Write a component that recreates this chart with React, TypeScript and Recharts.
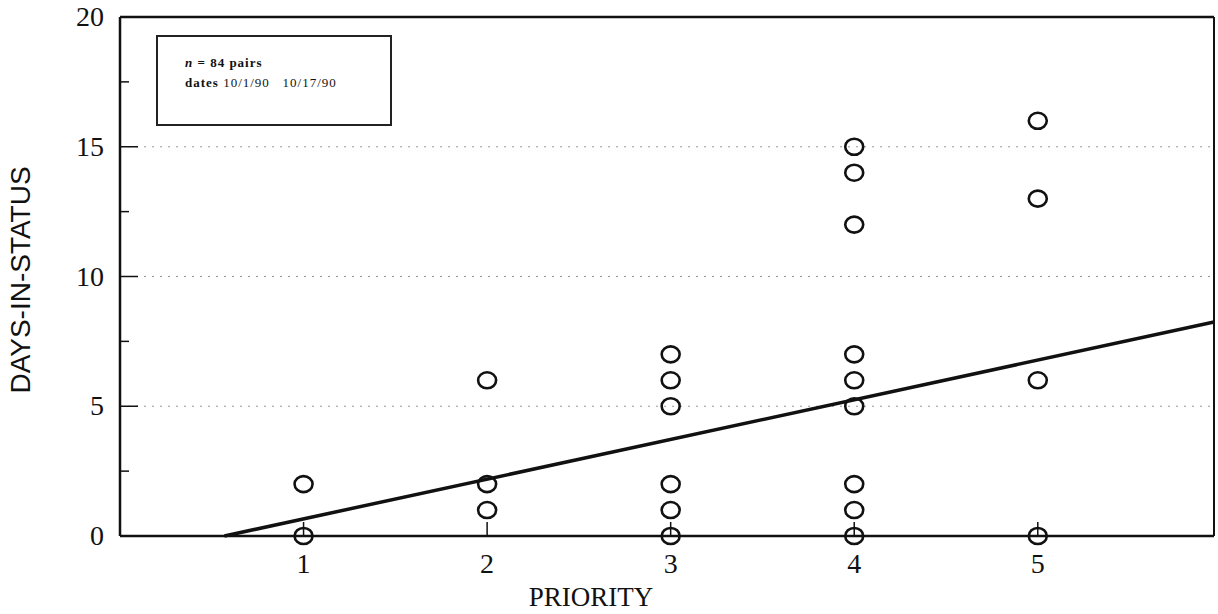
import React from 'react';
import { ScatterChart, Scatter, XAxis, YAxis, ReferenceLine } from 'recharts';

// observed pairs, grouped by priority
const priorities = [1, 2, 3, 4, 5];
const daysByPriority = [
  [0, 2],
  [1, 2, 6],
  [0, 1, 2, 5, 6, 7],
  [0, 1, 2, 5, 6, 7, 12, 14, 15],
  [0, 6, 13, 16],
];

const xTicks = [1, 2, 3, 4, 5];
const yTicks = [0, 2.5, 5, 7.5, 10, 12.5, 15, 17.5, 20];
const gridLevels = [5, 10, 15];

// least-squares fit
const fitSlope = 1.53;
const fitIntercept = -0.87;
const xMax = 5.96;

const points = priorities.flatMap((p, i) => daysByPriority[i].map((d) => ({ priority: p, days: d })));
const fitStart = -fitIntercept / fitSlope;
const fitSegment = [
  { x: fitStart, y: 0 },
  { x: xMax, y: fitSlope * xMax + fitIntercept },
];

const FONT = '"Liberation Serif", "Times New Roman", serif';

const Ring = (props: any) => {
  const { cx, cy } = props;
  return <ellipse cx={cx} cy={cy} rx={9} ry={8} fill="none" stroke="#111" strokeWidth={2.6} />;
};

const YTick = (props: any) => {
  const { y, payload } = props;
  const v = payload.value;
  const major = v % 5 === 0;
  const axisX = 120;
  return (
    <g>
      {v > 0 && v < 20 && (
        <line x1={axisX} x2={axisX + (major ? 18 : 9)} y1={y} y2={y} stroke="#111" strokeWidth={1.5} />
      )}
      {major && (
        <text x={104} y={y + 9} textAnchor="end" fontFamily={FONT} fontSize={28} fill="#111">
          {v}
        </text>
      )}
    </g>
  );
};

const XTick = (props: any) => {
  const { x, payload } = props;
  const axisY = 536;
  return (
    <g>
      <line x1={x} x2={x} y1={axisY} y2={axisY - 14} stroke="#111" strokeWidth={1.5} />
      <text x={x} y={axisY + 37} textAnchor="middle" fontFamily={FONT} fontSize={28} fill="#111">
        {payload.value}
      </text>
    </g>
  );
};

const XTitle = () => (
  <text x={591} y={606} textAnchor="middle" fontFamily={FONT} fontSize={27} fill="#111">
    PRIORITY
  </text>
);

const YTitle = () => (
  <text
    x={0}
    y={0}
    transform="translate(30 280) rotate(-90)"
    textAnchor="middle"
    fontFamily='"Liberation Sans Narrow", "Liberation Sans", Arial, sans-serif'
    fontSize={28}
    fill="#111"
  >
    DAYS-IN-STATUS
  </text>
);

export default function App() {
  return (
    <div style={{ position: 'absolute', left: 0, top: 0, width: 1218, height: 614, background: '#fff' }}>
      <ScatterChart width={1218} height={614} margin={{ top: 17, right: 4, bottom: 0, left: 0 }}>
        <XAxis
          type="number"
          dataKey="priority"
          domain={[0, xMax]}
          ticks={xTicks}
          tick={<XTick />}
          tickLine={false}
          axisLine={{ stroke: '#111', strokeWidth: 2.5 }}
          height={78}
          interval={0}
          label={{ content: <XTitle /> }}
        />
        <YAxis
          type="number"
          dataKey="days"
          domain={[0, 20]}
          ticks={yTicks}
          tick={<YTick />}
          tickLine={false}
          axisLine={{ stroke: '#111', strokeWidth: 2.5 }}
          width={120}
          interval={0}
          label={{ content: <YTitle /> }}
        />
        {gridLevels.map((g) => (
          <ReferenceLine key={g} y={g} stroke="#999" strokeWidth={1} strokeDasharray="2 6" />
        ))}
        <ReferenceLine y={20} stroke="#111" strokeWidth={2.5} />
        <ReferenceLine x={xMax} stroke="#111" strokeWidth={2} />
        <ReferenceLine segment={fitSegment} stroke="#111" strokeWidth={3.5} />
        <Scatter data={points} shape={<Ring />} isAnimationActive={false} />
      </ScatterChart>
      <div
        style={{
          position: 'absolute',
          left: 156,
          top: 35,
          width: 236,
          height: 91,
          border: '2px solid #222',
          boxSizing: 'border-box',
          fontFamily: FONT,
          fontSize: 13,
          letterSpacing: '1px',
          fontWeight: 'bold',
          color: '#111',
          paddingLeft: 27,
          paddingTop: 16,
          lineHeight: '20px',
        }}
      >
        <div>
          <i>n</i> = 84 pairs
        </div>
        <div style={{ fontWeight: 'normal' }}>
          <b>dates</b> 10/1/90&nbsp;&nbsp;&nbsp;10/17/90
        </div>
      </div>
    </div>
  );
}
